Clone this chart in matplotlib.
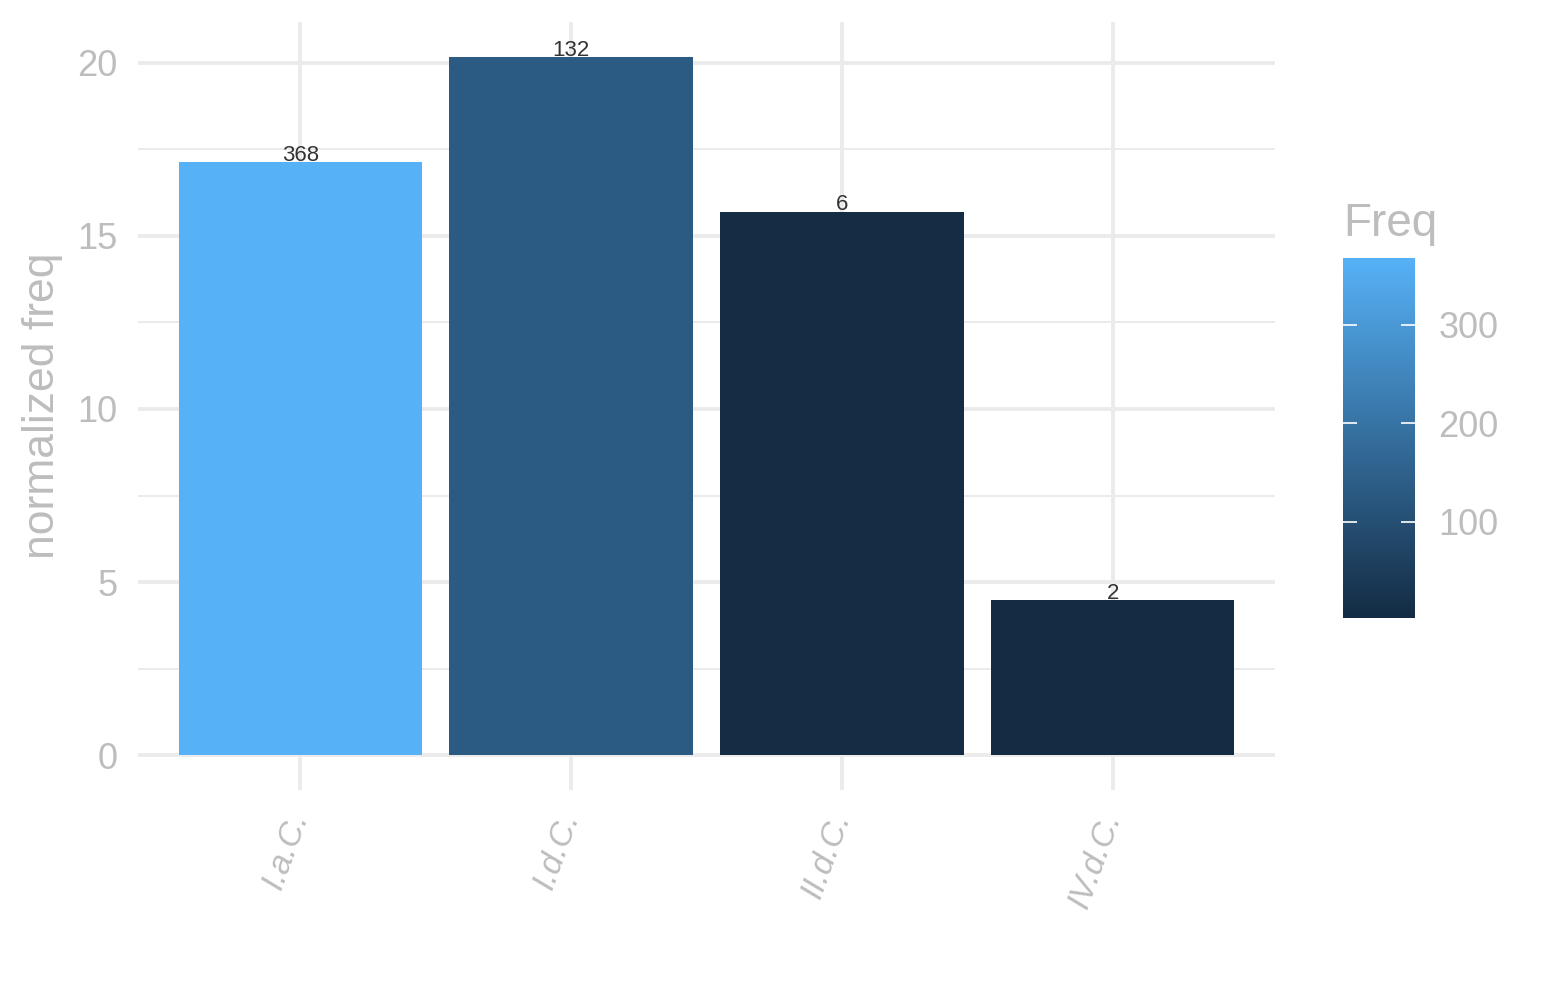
import numpy as np
import matplotlib
matplotlib.use('Agg')
import matplotlib.pyplot as plt
from matplotlib.colors import LinearSegmentedColormap, Normalize

plt.rcParams['font.family'] = ['Liberation Sans', 'DejaVu Sans']

# Data
periods = ['I.a.C.', 'I.d.C.', 'II.d.C.', 'IV.d.C.']
norm_freq = [17.13, 20.17, 15.70, 4.47]
freq = [368, 132, 6, 2]

grey_text = '#BDBDBD'
grid_col = '#EBEBEB'

# ggplot default continuous gradient
cmap = LinearSegmentedColormap.from_list('gg', ['#132B43', '#56B1F7'])
norm = Normalize(vmin=min(freq), vmax=max(freq))

fig = plt.figure(figsize=(15.45, 10), dpi=100)
ax = fig.add_axes([138 / 1545, 0.21, (1275 - 138) / 1545, 0.768])

x = np.arange(1, len(periods) + 1)
ax.bar(x, norm_freq, width=0.9, color=cmap(norm(freq)), zorder=2)

for xi, yi, f in zip(x, norm_freq, freq):
    ax.annotate(str(f), (xi, yi), xytext=(0, 5), textcoords='offset points',
                ha='center', va='center', fontsize=16, color='#333333', zorder=3)

ax.set_xlim(0.4, 4.6)
ax.set_ylim(-1.008, 21.18)
ax.set_xticks(x)
ax.set_xticklabels(periods, rotation=70, ha='right', va='center',
                   rotation_mode='anchor', style='italic', fontsize=24)
ax.set_yticks([0, 5, 10, 15, 20])
ax.set_yticks([2.5, 7.5, 12.5, 17.5], minor=True)

ax.grid(which='major', color=grid_col, linewidth=2.8, zorder=0)
ax.grid(which='minor', axis='y', color=grid_col, linewidth=1.4, zorder=0)
ax.set_axisbelow(True)
for s in ax.spines.values():
    s.set_visible(False)
ax.tick_params(axis='y', which='both', length=0, labelsize=26, colors=grey_text, pad=15)
ax.tick_params(axis='x', which='both', length=0, colors=grey_text, pad=17)
ax.set_ylabel('normalized freq', fontsize=32, color=grey_text, labelpad=10)

# Colour bar legend
cax = fig.add_axes([1343 / 1545, 1 - 618 / 1000, 72 / 1545, 0.36])
sm = plt.cm.ScalarMappable(cmap=cmap, norm=norm)
cb = fig.colorbar(sm, cax=cax, ticks=[100, 200, 300])
cb.outline.set_visible(False)
cax.tick_params(axis='y', left=True, right=True, direction='in', length=10,
                width=1.2, color='white', labelcolor=grey_text, labelsize=26, pad=17)
cax.set_title('Freq', loc='left', fontsize=33, color=grey_text, pad=16)

fig.savefig('out.png', dpi=100, facecolor='white')
